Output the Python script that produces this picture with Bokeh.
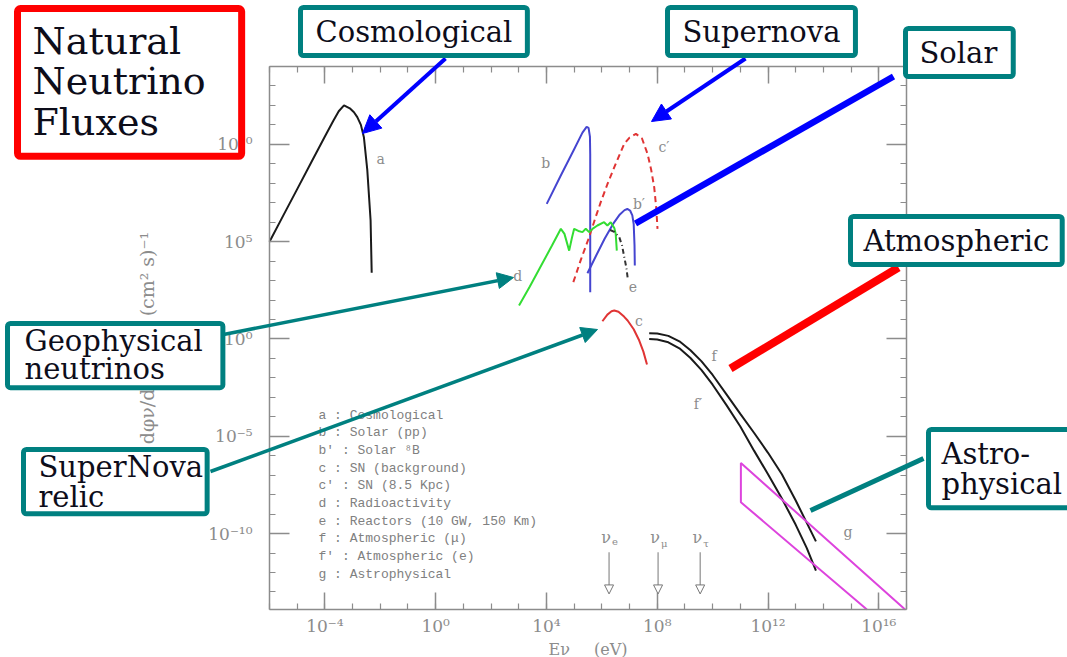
from bokeh.plotting import figure
from bokeh.models import (Range1d, LinearScale, LogAxis, FixedTicker, CustomJSTickFormatter,
                          Label, Arrow, NormalHead)
from bokeh.embed import file_html
from bokeh.resources import INLINE

# ---------------- values (log10 units) ----------------
X_TICKS = [1e-4, 1e0, 1e4, 1e8, 1e12, 1e16]
X_TICK_LABELS = ["10\u207b\u2074", "10\u2070", "10\u2074", "10\u2078", "10\u00b9\u00b2", "10\u00b9\u2076"]
X_MINOR = [10.0 ** k for k in range(-6, 18)]
Y_TICKS = [1e-10, 1e-5, 1e0, 1e5, 1e10]
Y_TICK_LABELS = ["10\u207b\u00b9\u2070", "10\u207b\u2075", "10\u2070", "10\u2075", "10\u00b9\u2070"]
Y_MINOR = [10.0 ** k for k in range(-13, 15)]

# a : Cosmological
A_LOGE = [-6.0, -5.5, -5.0, -4.5, -4.0, -3.7, -3.5, -3.31, -3.1, -2.95, -2.83, -2.7, -2.59, -2.47, -2.35, -2.31]
A_LOGF = [5.0, 6.35, 7.7, 9.05, 10.4, 11.2, 11.7, 12.0, 11.85, 11.65, 11.4, 11.0, 10.35, 8.7, 6.1, 3.4]
# b : Solar (pp)
B_LOGE = [4.01, 4.5, 5.0, 5.3, 5.45, 5.52, 5.57, 5.58, 5.58]
B_LOGF = [6.94, 8.35, 9.75, 10.6, 10.9, 10.85, 10.4, 9.5, 2.4]
# b' : Solar 8B
BP_LOGE = [5.48, 5.8, 6.1, 6.4, 6.65, 6.82, 6.92, 7.02, 7.1, 7.15, 7.18, 7.19]
BP_LOGF = [3.38, 4.3, 5.15, 5.9, 6.4, 6.62, 6.68, 6.6, 6.35, 5.9, 4.8, 3.77]
# c : SN (background)
C_LOGE = [6.02, 6.2, 6.35, 6.45, 6.6, 6.8, 6.93, 7.15, 7.35, 7.5, 7.63]
C_LOGF = [0.91, 1.25, 1.42, 1.46, 1.4, 1.15, 0.95, 0.5, -0.08, -0.65, -1.31]
# c' : SN (8.5 Kpc)
CP_LOGE = [4.97, 5.25, 5.54, 5.75, 5.96, 6.2, 6.45, 6.65, 6.81, 7.0, 7.23, 7.45, 7.65, 7.78, 7.89, 7.96, 8.01]
CP_LOGF = [2.92, 4.1, 5.23, 6.15, 7.03, 7.95, 8.83, 9.5, 10.03, 10.35, 10.54, 10.3, 9.51, 8.7, 7.8, 6.8, 5.66]
# d : Radioactivity
D_LOGE = [3.01, 3.4, 3.8, 4.2, 4.52, 4.65, 4.82, 4.92, 5.0, 5.15, 5.30, 5.42, 5.54, 5.7, 5.84, 6.08, 6.2, 6.32, 6.45, 6.5, 6.54]
D_LOGF = [1.72, 2.7, 3.75, 4.8, 5.66, 5.4, 4.54, 5.2, 5.66, 5.55, 5.49, 5.66, 5.49, 5.7, 5.83, 6.0, 5.83, 6.0, 5.7, 5.4, 4.54]
# e : Reactors
E_LOGE = [6.3, 6.45, 6.63, 6.73, 6.81, 6.88, 6.93]
E_LOGF = [5.6, 5.5, 5.23, 4.8, 4.2, 3.7, 3.17]
# f : Atmospheric (mu),  f' : Atmospheric (e)
F_LOGE = [7.71, 8.0, 8.4, 8.8, 9.2, 9.6, 10.0, 10.5, 11.0, 11.5, 12.0, 12.5, 13.0, 13.4, 13.73]
F_LOGF = [0.30, 0.28, 0.16, -0.12, -0.58, -1.15, -1.85, -2.85, -3.85, -4.83, -5.85, -6.95, -8.3, -9.45, -10.4]
FP_LOGF = [0.0, -0.03, -0.17, -0.48, -0.98, -1.6, -2.35, -3.4, -4.5, -5.75, -6.95, -8.2, -9.55, -10.75, -11.9]
# g : Astrophysical (band outline)
G_LOGE = [15.57, 11.02, 11.02, 16.95]
G_LOGF = [-13.9, -8.39, -6.37, -13.9]

# neutrino flavour markers
NU_NAMES = ["e", "\u03bc", "\u03c4"]
NU_LOGE = [6.26, 8.03, 9.55]
NU_ARROW_TOP = -10.96
NU_ARROW_BOTTOM = -13.1
NU_LABEL_LOGF = -10.18

# curve letters
CURVE_TAGS = ["a", "b", "b\u2032", "c", "c\u2032", "d", "e", "f", "f\u2032", "g"]
CURVE_TAG_LOGE = [-1.99, 3.97, 7.34, 7.34, 8.24, 2.96, 7.12, 10.05, 9.47, 14.89]
CURVE_TAG_LOGF = [9.27, 9.02, 6.96, 0.90, 9.84, 3.26, 2.69, -0.90, -3.32, -9.9]

LEGEND_KEYS = ["a", "b", "b'", "c", "c'", "d", "e", "f", "f'", "g"]
LEGEND_NAMES = ["Cosmological", "Solar (pp)", "Solar \u2078B", "SN (background)", "SN (8.5 Kpc)",
                "Radioactivity", "Reactors (10 GW, 150 Km)", "Atmospheric (\u03bc)",
                "Atmospheric (e)", "Astrophysical"]

# axis extent (log10 of the plotted box)
X_LO, X_HI = -6.0, 17.0
Y_LO, Y_HI = -13.9, 14.0


def pw(v):
    return [10.0 ** t for t in v]


# ---------------- layout: the plotted box sits at these page pixels ----------------
W, H = 1067, 657
BOX_L, BOX_R, BOX_T, BOX_B = 269, 906, 66, 609
dx = (BOX_R - BOX_L) / (X_HI - X_LO)
dy = (BOX_B - BOX_T) / (Y_HI - Y_LO)
xr = Range1d(10 ** (X_LO - BOX_L / dx), 10 ** (X_HI + (W - BOX_R) / dx))
yr = Range1d(10 ** (Y_LO - (H - BOX_B) / dy), 10 ** (Y_HI + BOX_T / dy))

GRAY = "#8c8c8c"
TEAL = "#008080"
SERIF = "DejaVu Serif"

p = figure(width=W, height=H, x_axis_type="log", y_axis_type="log",
           x_axis_location=None, y_axis_location=None,
           x_range=xr, y_range=yr, output_backend="svg", toolbar_location=None, min_border=0)
p.outline_line_color = None
p.grid.visible = False
p.background_fill_color = "white"
p.border_fill_color = "white"

# page-pixel helper ranges for the call-out annotations
p.extra_x_ranges = {"px": Range1d(0, W)}
p.extra_y_ranges = {"px": Range1d(H, 0)}
p.extra_x_scales = {"px": LinearScale()}
p.extra_y_scales = {"px": LinearScale()}

fmt_code = """
for (let i = 0; i < tv.length; i++) {
  if (Math.abs(Math.log10(tick) - Math.log10(tv[i])) < 1e-6) return tl[i];
}
return "";
"""


def make_axis(ticks, minor, labels, fixed, bounds, major_in):
    if labels is None:
        fmt = CustomJSTickFormatter(code="return '';")
    else:
        fmt = CustomJSTickFormatter(args=dict(tv=ticks, tl=labels), code=fmt_code)
    ax = LogAxis(ticker=FixedTicker(ticks=ticks, minor_ticks=minor), formatter=fmt,
                 fixed_location=fixed, bounds=bounds)
    ax.axis_line_color = GRAY
    ax.axis_line_width = 1.5
    ax.major_tick_line_color = GRAY
    ax.major_tick_line_width = 1.5
    ax.minor_tick_line_color = GRAY
    ax.minor_tick_line_width = 1.2
    ax.major_tick_in = major_in
    ax.major_tick_out = 0
    ax.minor_tick_in = 6
    ax.minor_tick_out = 0
    ax.major_label_text_font = SERIF
    ax.major_label_text_font_size = "17px"
    ax.major_label_text_color = GRAY
    ax.axis_label_text_font = SERIF
    ax.axis_label_text_color = GRAY
    ax.axis_label_text_font_style = "normal"
    return ax


xb = (10 ** X_LO, 10 ** X_HI)
yb = (10 ** Y_LO, 10 ** Y_HI)

xa = make_axis(X_TICKS, X_MINOR, X_TICK_LABELS, 10 ** Y_LO, xb, 17)
xa.major_label_standoff = 6
xa.axis_label = "E\u03bd\u2003\u2002(eV)"
xa.axis_label_text_font_size = "16px"
xa.axis_label_standoff = 1
p.add_layout(xa, "below")

ya = make_axis(Y_TICKS, Y_MINOR, Y_TICK_LABELS, 10 ** X_LO, yb, 20)
ya.major_label_standoff = 17
ya.axis_label = "d\u03c6\u03bd/dlnE\u03bd\u2003\u2002(cm\u00b2 s)\u207b\u00b9"
ya.axis_label_text_font_size = "19px"
ya.axis_label_standoff = 47
p.add_layout(ya, "left")

p.add_layout(make_axis(X_TICKS, X_MINOR, None, 10 ** Y_HI, xb, 17), "above")
p.add_layout(make_axis(Y_TICKS, Y_MINOR, None, 10 ** X_HI, yb, 20), "right")

# ---------------- curves ----------------
p.line(pw(A_LOGE), pw(A_LOGF), line_color="#1a1a1a", line_width=2)
p.line(pw(B_LOGE), pw(B_LOGF), line_color="#4545d0", line_width=2)
p.line(pw(BP_LOGE), pw(BP_LOGF), line_color="#4545d0", line_width=2)
p.line(pw(CP_LOGE), pw(CP_LOGF), line_color="#e03434", line_width=2, line_dash="6 4")
p.line(pw(D_LOGE), pw(D_LOGF), line_color="#33dd33", line_width=2)
p.line(pw(E_LOGE), pw(E_LOGF), line_color="#333333", line_width=2, line_dash="5 3 1 3")
p.line(pw(C_LOGE), pw(C_LOGF), line_color="#e03434", line_width=2)
p.line(pw(F_LOGE), pw(F_LOGF), line_color="#1a1a1a", line_width=2)
p.line(pw(F_LOGE), pw(FP_LOGF), line_color="#1a1a1a", line_width=2)
p.line(pw(G_LOGE), pw(G_LOGF), line_color="#dd44dd", line_width=2)

for t, lx, ly in zip(CURVE_TAGS, CURVE_TAG_LOGE, CURVE_TAG_LOGF):
    p.add_layout(Label(x=10 ** lx, y=10 ** ly, text=t, text_font=SERIF, text_font_size="14px",
                       text_color=GRAY, text_align="center", text_baseline="middle"))

# neutrino flavour arrows
for name, lx in zip(NU_NAMES, NU_LOGE):
    p.add_layout(Arrow(end=NormalHead(size=9, fill_color="white", line_color="#777777", line_width=1),
                       x_start=10 ** lx, y_start=10 ** NU_ARROW_TOP, x_end=10 ** lx, y_end=10 ** NU_ARROW_BOTTOM,
                       line_color="#777777", line_width=1))
    p.add_layout(Label(x=10 ** lx, y=10 ** NU_LABEL_LOGF, text="\u03bd", text_font=SERIF, text_font_size="16px",
                       text_color=GRAY, text_align="right", text_baseline="middle", x_offset=2))
    p.add_layout(Label(x=10 ** lx, y=10 ** NU_LABEL_LOGF, text=name, text_font=SERIF, text_font_size="10px",
                       text_color=GRAY, text_align="left", text_baseline="top", x_offset=3, y_offset=-1))

# legend text block (page px)
legend_text = "\n".join(f"{k} : {n}" for k, n in zip(LEGEND_KEYS, LEGEND_NAMES))
p.add_layout(Label(x=318, y=407, x_range_name="px", y_range_name="px", text=legend_text,
                   text_font="Liberation Mono", text_font_size="13px", text_color="#808080",
                   text_line_height=1.18, anchor="top_left", text_align="left"))

# ---------------- connectors (page px) ----------------
# x0, y0, x1, y1, colour, width, head size (0 = none)
CONNECTORS = [
    (445, 58, 362, 133, "#0000ff", 4, 18),
    (745, 58, 651, 121, "#0000ff", 4, 18),
    (893, 76, 635, 223, "#0000ff", 6.5, 0),
    (898, 267, 730, 368, "#ff0000", 8, 0),
    (923, 458, 810, 510, TEAL, 5, 0),
    (223, 334, 513, 277, TEAL, 3.5, 16),
    (210, 471, 597, 329, TEAL, 3.5, 16),
]
for x0, y0, x1, y1, col, w, hs in CONNECTORS:
    head = NormalHead(size=hs, fill_color=col, line_color=col, line_width=1) if hs else None
    p.add_layout(Arrow(end=head, x_start=x0, y_start=y0, x_end=x1, y_end=y1,
                       x_range_name="px", y_range_name="px", line_color=col, line_width=w))

# ---------------- call-out boxes (page px) ----------------
# text, left, top, font size, border colour, border width, padding, line height, fill
BOXES = [
    ("Natural\nNeutrino\nFluxes", 17, 8, "38px", "#ff0000", 7, dict(left=15, right=36, top=10, bottom=12), 0.93, None),
    ("Cosmological", 300, 7, "29px", TEAL, 5, dict(left=15, right=15, top=7, bottom=7), 1.2, "white"),
    ("Supernova", 667, 7, "29px", TEAL, 5, dict(left=15, right=15, top=7, bottom=7), 1.2, "white"),
    ("Solar", 905, 28, "29px", TEAL, 5, dict(left=14, right=16, top=7, bottom=7), 1.2, "white"),
    ("Atmospheric", 850, 216, "29px", TEAL, 5, dict(left=13, right=13, top=7, bottom=7), 1.2, "white"),
    ("Geophysical\nneutrinos", 7, 323, "29px", TEAL, 5, dict(left=17, right=20, top=0, bottom=2), 0.83, "white"),
    ("SuperNova\nrelic", 23, 449, "29px", TEAL, 5, dict(left=15, right=4, top=0, bottom=0), 0.89, "white"),
    ("Astro-\nphysical", 928, 429, "29px", TEAL, 5, dict(left=13, right=30, top=7, bottom=7), 0.89, "white"),
]
for text, lx, ty, fs, bc, bw, pad, lh, fill in BOXES:
    p.add_layout(Label(x=lx, y=ty, x_range_name="px", y_range_name="px", text=text,
                       text_font=SERIF, text_font_size=fs, text_color="#0d0d1a",
                       text_line_height=lh, anchor="top_left", text_align="left",
                       background_fill_color=fill, border_line_color=bc, border_line_width=bw,
                       padding=pad, border_radius=3))

open("out.html", "w").write(file_html(p, INLINE))
